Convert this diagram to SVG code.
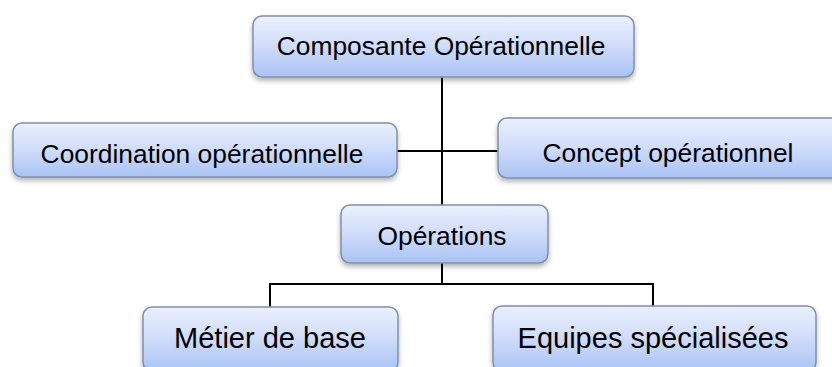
<svg xmlns="http://www.w3.org/2000/svg" width="832" height="367" viewBox="0 0 832 367">
  <defs>
    <linearGradient id="fill" x1="0" y1="0" x2="0" y2="1">
      <stop offset="0" stop-color="#eaf0fd"/>
      <stop offset="0.5" stop-color="#cfdcfa"/>
      <stop offset="1" stop-color="#a8c3f4"/>
    </linearGradient>
    <filter id="shadow" x="-10%" y="-20%" width="120%" height="150%">
      <feDropShadow dx="0" dy="3" stdDeviation="2.5" flood-color="#000000" flood-opacity="0.3"/>
    </filter>
  </defs>
  <style>
    .box { fill: url(#fill); stroke: #8090a8; stroke-width: 1.5; filter: url(#shadow); }
    .lbl { font-family: "Liberation Sans", Arial, sans-serif; fill: #000000; text-anchor: middle; }
    .s26 { font-size: 26.4px; }
    .s29 { font-size: 29px; }
    .conn { stroke: #000000; stroke-width: 2; fill: none; }
  </style>
  <rect width="832" height="367" fill="#ffffff"/>
  <g id="connectors">
    <line class="conn" x1="442" y1="77" x2="442" y2="205"/>
    <line class="conn" x1="397" y1="151" x2="498" y2="151"/>
    <line class="conn" x1="442" y1="263" x2="442" y2="284"/>
    <polyline class="conn" points="270,307 270,284 653,284 653,306"/>
  </g>
  <g id="composante">
    <rect class="box" x="253" y="16" width="381" height="61" rx="9"/>
    <text class="lbl s26" x="441" y="55">Composante Opérationnelle</text>
  </g>
  <g id="coordination">
    <rect class="box" x="13" y="123" width="384" height="54" rx="9"/>
    <text class="lbl s26" x="202" y="163">Coordination opérationnelle</text>
  </g>
  <g id="concept">
    <rect class="box" x="498" y="118" width="345" height="60" rx="9"/>
    <text class="lbl s26" x="668" y="162">Concept opérationnel</text>
  </g>
  <g id="operations">
    <rect class="box" x="341" y="205" width="207" height="58" rx="9"/>
    <text class="lbl s26" x="442" y="245">Opérations</text>
  </g>
  <g id="metier">
    <rect class="box" x="143" y="307" width="255" height="64" rx="9"/>
    <text class="lbl s29" x="270" y="348">Métier de base</text>
  </g>
  <g id="equipes">
    <rect class="box" x="493" y="306" width="323" height="65" rx="9"/>
    <text class="lbl s29" x="653" y="348">Equipes spécialisées</text>
  </g>
</svg>
